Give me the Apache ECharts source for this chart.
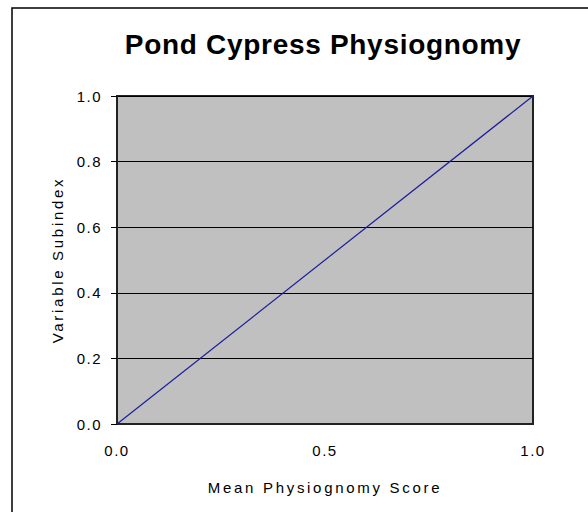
<!DOCTYPE html>
<html><head><meta charset="utf-8">
<script src="https://cdn.jsdelivr.net/npm/echarts@6/dist/echarts.min.js"></script>
<style>html,body{margin:0;padding:0;background:#fff}#c{width:588px;height:512px}#c svg text{letter-spacing:1.5px}</style>
</head><body><div id="c"></div>
<script>
const titleText = 'Pond Cypress Physiognomy';
const xName = 'Mean Physiognomy Score';
const yName = 'Variable Subindex';
const xValues = [0.0, 1.0];
const yValues = [0.0, 1.0];
const xTicks = [0.0, 0.5, 1.0];
const yTicks = [0.0, 0.2, 0.4, 0.6, 0.8, 1.0];

const chart = echarts.init(document.getElementById('c'), null, {renderer:'svg'});
const font = 'Liberation Sans, Arial, sans-serif';
function spacing(){
  document.querySelectorAll('#c svg text').forEach(t=>{
    const s = t.textContent;
    if (s === titleText) t.style.letterSpacing = '0.7px';
    else if (s === xName || s === yName) t.style.letterSpacing = '2.7px';
  });
}
chart.on('finished', spacing);
chart.setOption({
  animation:false,
  backgroundColor:'#fff',
  title:{text:titleText,left:318,top:25,textAlign:'center',
    textStyle:{fontFamily:font,fontSize:28,fontWeight:'bold',color:'#000'}},
  graphic:[{type:'rect',shape:{x:12,y:8,width:600,height:520},
    style:{fill:'none',stroke:'#000',lineWidth:1.5},silent:true}],
  grid:{left:117,top:96,right:55,bottom:88,show:true,backgroundColor:'#c0c0c0',
    borderColor:'#222',borderWidth:2},
  xAxis:{type:'value',min:xTicks[0],max:xTicks[xTicks.length-1],interval:0.5,
    name:xName,nameLocation:'middle',nameGap:56,
    nameTextStyle:{fontFamily:font,fontSize:15,color:'#000'},
    axisLine:{show:true,lineStyle:{color:'#222',width:2}},
    axisTick:{show:false},splitLine:{show:false},
    axisLabel:{margin:19,fontFamily:font,fontSize:15,color:'#000',formatter:v=>v.toFixed(1)}},
  yAxis:{type:'value',min:yTicks[0],max:yTicks[yTicks.length-1],interval:0.2,
    name:yName,nameLocation:'middle',nameGap:52,
    nameTextStyle:{fontFamily:font,fontSize:15,color:'#000'},
    axisLine:{show:true,lineStyle:{color:'#222',width:2}},
    axisTick:{show:true,length:6,lineStyle:{color:'#000'}},
    splitLine:{show:true,lineStyle:{color:'#000',width:1}},
    axisLabel:{margin:15,fontFamily:font,fontSize:15,color:'#000',formatter:v=>v.toFixed(1)}},
  series:[{type:'line',data:xValues.map((x,i)=>[x,yValues[i]]),showSymbol:false,
    lineStyle:{color:'#1c1c9c',width:1.2}}]
});
spacing();
setTimeout(spacing, 50);
</script></body></html>
